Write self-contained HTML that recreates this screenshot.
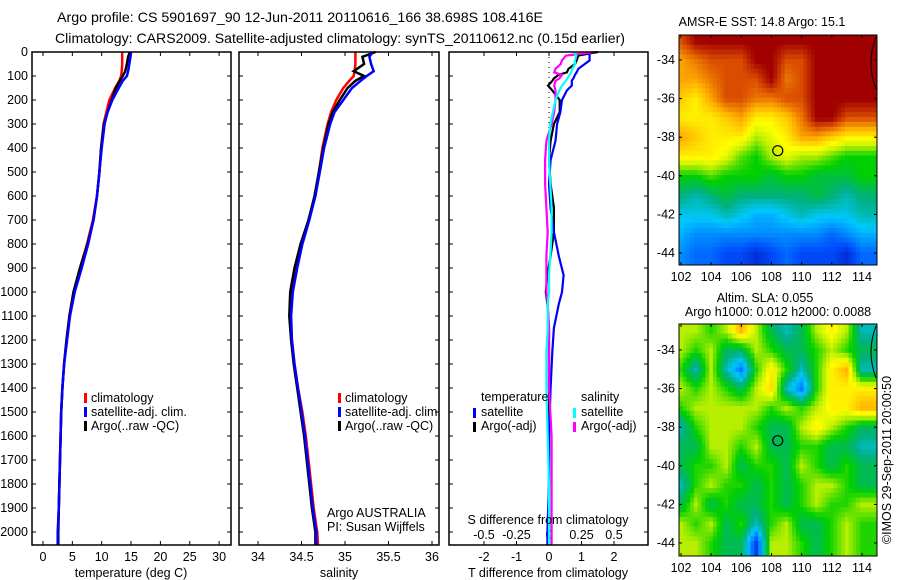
<!DOCTYPE html>
<html><head><meta charset="utf-8"><style>
body{margin:0;background:#fff;}
svg{display:block;font-family:"Liberation Sans",sans-serif;}
text{font-size:12.5px;fill:#000;}
</style></head><body>
<svg id="fig" width="900" height="580" xmlns="http://www.w3.org/2000/svg">
<rect width="900" height="580" fill="#fff"/>
<text x="300" y="22" text-anchor="middle" style="font-size:14px" textLength="486" lengthAdjust="spacingAndGlyphs">Argo profile: CS 5901697_90 12-Jun-2011 20110616_166 38.698S 108.416E</text>
<text x="340" y="43" text-anchor="middle" style="font-size:14px" textLength="570" lengthAdjust="spacingAndGlyphs">Climatology: CARS2009. Satellite-adjusted climatology: synTS_20110612.nc (0.15d earlier)</text>
<g id="layer"></g>
</svg>
<script>
// ---- profile data ----
const depthT = [0,20,50,80,100,120,150,200,250,300,400,500,600,700,800,900,1000,1100,1200,1300,1400,1500,1600,1700,1800,1900,2000,2054];
const tempClim = [13.5,13.5,13.5,13.4,13.3,13.0,12.3,11.3,10.8,10.3,9.9,9.6,9.2,8.5,7.5,6.3,5.2,4.5,4.0,3.6,3.3,3.1,3.0,2.9,2.8,2.7,2.55,2.5];
const tempSat = [15.0,14.9,14.7,14.5,14.3,13.6,12.9,11.8,11.0,10.5,10.0,9.6,9.2,8.6,7.7,6.6,5.4,4.6,4.1,3.6,3.3,3.1,3.0,2.9,2.8,2.7,2.5,2.5];
const tempArgo = [14.8,14.5,14.3,14.0,13.6,13.1,12.4,11.7,11.0,10.4,9.9,9.6,9.2,8.6,7.6,6.3,5.2,4.5,4.0,3.6,3.3,3.1,3.0,2.9,2.8,2.7,2.6,2.6];
const salClim = [35.12,35.12,35.12,35.11,35.10,35.05,34.98,34.90,34.84,34.80,34.74,34.70,34.66,34.58,34.50,34.43,34.39,34.37,34.39,34.42,34.46,34.51,34.55,34.58,34.61,34.64,34.68,34.69];
const salSat = [35.32,35.28,35.30,35.33,35.25,35.18,35.08,34.98,34.88,34.83,34.76,34.71,34.66,34.59,34.51,34.45,34.40,34.38,34.39,34.42,34.46,34.50,34.54,34.57,34.60,34.63,34.67,34.67];
const salArgo = [35.35,35.20,35.22,35.10,35.22,35.12,35.03,34.94,34.86,34.81,34.75,34.70,34.65,34.58,34.49,34.42,34.37,34.36,34.38,34.41,34.45,34.49,34.53,34.56,34.59,34.62,34.66,34.66];
const depthD = [0,15,35,50,70,85,95,110,120,140,160,200,250,300,370,450,550,650,750,850,930,1000,1050,1150,1250,1400,1600,1800,2000,2054];
const tdiffSat = [1.2,1.25,1.25,1.1,0.9,0.85,0.8,0.75,0.7,0.7,0.55,0.4,0.35,0.25,0.2,0.05,0.0,0.05,0.15,0.3,0.45,0.4,0.3,0.15,0.1,0.05,0.0,0.0,-0.05,-0.05];
const tdiffArgo = [1.5,0.9,0.85,0.8,0.6,0.55,0.3,0.15,0.1,-0.03,0.1,0.33,0.33,0.15,0.05,0.0,0.05,0.15,0.15,0.05,-0.05,-0.1,-0.05,0.0,0.0,0.0,0.0,0.0,0.0,0.0];
const sdiffSat = [0.19,0.21,0.2,0.2,0.18,0.17,0.16,0.14,0.13,0.1,0.08,0.05,0.03,0.01,0.0,0.0,0.01,0.02,0.02,0.01,0.0,0.0,-0.01,-0.01,-0.02,-0.02,-0.01,0.0,0.0,0.0];
const sdiffArgo = [0.35,0.13,0.1,0.09,0.05,0.04,0.1,0.08,0.05,0.04,0.05,0.05,0.04,0.02,-0.02,-0.03,-0.03,-0.02,-0.01,-0.02,-0.02,-0.02,-0.01,0.0,0.0,0.0,0.02,0.02,0.02,0.02];
// ---- map data (rows lat -33..-44, cols lon 102..114) ----
const mapLons = [102,103,104,105,106,107,108,109,110,111,112,113,114];
const mapLats = [-33,-34,-35,-36,-37,-38,-39,-40,-41,-42,-43,-44];
const sstGrid = [
[17,18,18,18,18,18,18,18,18,18,18,18,18],
[16,16.5,17,17,17,18,18,17,17,18,18,18,18],
[16,16,16.5,17,17,17,18,16.5,17,18,18,18,18],
[15.5,15,16,17,17,16.5,16.5,17,17,18,18,18,18],
[15,15,15,15.5,16,15,15,15.5,16.5,18,18,17,17],
[16,15.5,15,15,15,14,14.5,15,16,16,15.5,15,15],
[15,15,15,14.5,13.5,13,14,14.5,14,14,13.5,13,13],
[13,13,13.5,13,13,13,12.5,13,13,12.5,12.5,12.5,13],
[12,11.5,12,12.5,12,12,12,12,12,12.5,12,11.5,12],
[11,11,11,11.5,11,10.5,10.5,11,11.5,11,11,11,11.5],
[10.5,10,10,10,10,10,10,10,10,10,9.5,10,10.5],
[10,9.5,9.5,9,9,8.5,9,9.5,9,9,9,8.5,9.5]];
const slaGrid = [
[0.05,0.05,0.0,0.05,0.15,0.05,-0.05,-0.1,-0.05,0.05,0.1,0.05,-0.1],
[0.05,0,0.05,-0.05,-0.05,0.05,0,-0.05,-0.05,0,0.05,0,-0.05],
[0,-0.1,0.05,-0.1,-0.2,0,0.1,0,-0.1,0,0.1,0.15,-0.1],
[0.05,0,0.05,0,-0.05,0.05,0.12,-0.1,-0.2,0,0.1,0.1,0.1],
[0,0.05,0.05,0.05,0.05,0.05,0,0.05,0,0.05,0.1,0.1,0.15],
[-0.1,0,0.05,0.05,0.05,0,-0.05,-0.05,0.05,0.1,0.05,0,-0.05],
[-0.05,-0.05,0.05,0.05,0,0.05,-0.05,-0.05,0,0,-0.05,-0.05,-0.1],
[-0.05,0,0,0.05,-0.05,0,0,-0.05,0.05,0,-0.05,0,-0.05],
[-0.1,0,0.05,0,0,-0.05,0,-0.05,0,0.05,0.05,0,-0.05],
[-0.05,0.05,-0.05,0,-0.05,-0.05,0,-0.05,0,0.05,0,0,0.05],
[0.05,0,0.05,-0.05,0,-0.1,0,0.05,-0.05,-0.05,0,0.05,0],
[0.05,0.05,0,-0.05,-0.05,-0.25,0.05,0.05,0,-0.05,0,0.05,0]];
const argoLon = 108.416, argoLat = -38.698;
const depthTicks = [0,100,200,300,400,500,600,700,800,900,1000,1100,1200,1300,1400,1500,1600,1700,1800,1900,2000];
const tempTicks = [0,5,10,15,20,25,30];
const salTicks = [34,34.5,35,35.5,36];
const tdTicks = [-2,-1,0,1,2];
const sdTicks = [-0.5,-0.25,0,0.25,0.5];
const lonTicks = [102,104,106,108,110,112,114];
const latTicks = [-34,-36,-38,-40,-42,-44];

const NS='http://www.w3.org/2000/svg';
const L=document.getElementById('layer');
function mk(tag,attrs,parent){const e=document.createElementNS(NS,tag);for(const k in attrs)e.setAttribute(k,attrs[k]);(parent||L).appendChild(e);return e;}
function txt(x,y,s,anchor,parent){const e=mk('text',{x:x,y:y,'text-anchor':anchor||'start'},parent);e.textContent=s;return e;}
const Y=d=>52+0.24*d;
const PB=545;
function poly(xs,ds,fx,col,w,name){
  let p='';
  for(let i=0;i<xs.length;i++){p+=(i?'L':'M')+fx(xs[i]).toFixed(1)+','+Y(ds[i]).toFixed(1);}
  const e=mk('path',{d:p,fill:'none',stroke:col,'stroke-width':w});
  
  
}
function box(x0,x1,y0,y1,name){
  const e=mk('rect',{x:x0,y:y0,width:x1-x0,height:y1-y0,fill:'none',stroke:'#000','stroke-width':1.5});
  
  
}
// Panel 1 temperature
const xT=v=>43+v*5.87;
const p1=[32,231];
depthTicks.forEach(d=>{mk('line',{x1:p1[0],x2:p1[0]+4,y1:Y(d),y2:Y(d),stroke:'#000'});mk('line',{x1:p1[1]-4,x2:p1[1],y1:Y(d),y2:Y(d),stroke:'#000'});
 const t=txt(28,Y(d)+4,String(d),'end');});
tempTicks.forEach(v=>{mk('line',{x1:xT(v),x2:xT(v),y1:PB-4,y2:PB,stroke:'#000'});mk('line',{x1:xT(v),x2:xT(v),y1:52,y2:56,stroke:'#000'});
 const t=txt(xT(v),561,String(v),'middle');});
poly(tempClim,depthT,xT,'#f00',2.5,'temp-climatology-line');
poly(tempArgo,depthT,xT,'#000',2.5,'temp-argo-line');
poly(tempSat,depthT,xT,'#00f',2.5,'temp-satellite-line');
box(p1[0],p1[1],52,PB,'temperature-axes');
txt(131,577,'temperature (deg C)','middle');
function legend3(x,y0,name){
  const cols=['#f00','#00f','#000'],labs=['climatology','satellite-adj. clim.','Argo(..raw -QC)'];
  const g=mk('g',{});
  for(let i=0;i<3;i++){mk('rect',{x:x,y:y0+i*14-5,width:3,height:10,fill:cols[i]},g);txt(x+7,y0+i*14+4,labs[i],'start',g);}
}
legend3(84,398,'temp-legend');
// Panel 2 salinity
const xS=v=>258+(v-34)*87;
const p2=[239,439];
depthTicks.forEach(d=>{mk('line',{x1:p2[0],x2:p2[0]+4,y1:Y(d),y2:Y(d),stroke:'#000'});mk('line',{x1:p2[1]-4,x2:p2[1],y1:Y(d),y2:Y(d),stroke:'#000'});});
salTicks.forEach(v=>{mk('line',{x1:xS(v),x2:xS(v),y1:PB-4,y2:PB,stroke:'#000'});mk('line',{x1:xS(v),x2:xS(v),y1:52,y2:56,stroke:'#000'});
 const t=txt(xS(v),561,String(v),'middle');});
poly(salClim,depthT,xS,'#f00',2.5,'sal-climatology-line');
poly(salArgo,depthT,xS,'#000',2.5,'sal-argo-line');
poly(salSat,depthT,xS,'#00f',2.5,'sal-satellite-line');
box(p2[0],p2[1],52,PB,'salinity-axes');
txt(339,577,'salinity','middle');
legend3(338,398,'sal-legend');
txt(327,517,'Argo AUSTRALIA');
txt(327,531,'PI: Susan Wijffels');
// Panel 3 differences
const xTD=v=>549+v*32.5, xSD=v=>549+v*130;
const p3=[449,648];
depthTicks.forEach(d=>{mk('line',{x1:p3[0],x2:p3[0]+4,y1:Y(d),y2:Y(d),stroke:'#000'});mk('line',{x1:p3[1]-4,x2:p3[1],y1:Y(d),y2:Y(d),stroke:'#000'});});
tdTicks.forEach(v=>{mk('line',{x1:xTD(v),x2:xTD(v),y1:PB-4,y2:PB,stroke:'#000'});mk('line',{x1:xTD(v),x2:xTD(v),y1:52,y2:56,stroke:'#000'});
 const t=txt(xTD(v),561,String(v),'middle');});
sdTicks.forEach(v=>{const t=txt(xSD(v),539,String(v),'middle');});
mk('line',{x1:549,x2:549,y1:52,y2:140,stroke:'#000','stroke-dasharray':'1,4'});
poly(tdiffArgo,depthD,xTD,'#000',2.2,'tdiff-argo-line');
poly(tdiffSat,depthD,xTD,'#00f',2.2,'tdiff-satellite-line');
poly(sdiffArgo,depthD,xSD,'#f0f',2.2,'sdiff-argo-line');
poly(sdiffSat,depthD,xSD,'#0ff',2.2,'sdiff-satellite-line');
box(p3[0],p3[1],52,PB,'difference-axes');
txt(548,524,'S difference from climatology','middle');
txt(548,577,'T difference from climatology','middle');
(function(){const g=mk('g',{});
 txt(481,401,'temperature','start',g);txt(581,401,'salinity','start',g);
 mk('rect',{x:473,y:408,width:3,height:10,fill:'#00f'},g);txt(481,416,'satellite','start',g);
 mk('rect',{x:473,y:422,width:3,height:10,fill:'#000'},g);txt(481,430,'Argo(-adj)','start',g);
 mk('rect',{x:573,y:408,width:3,height:10,fill:'#0ff'},g);txt(581,416,'satellite','start',g);
 mk('rect',{x:573,y:422,width:3,height:10,fill:'#f0f'},g);txt(581,430,'Argo(-adj)','start',g);})();
// ---- maps ----
const cmStops=[[0,[0,0,150]],[0.15,[0,80,255]],[0.3,[0,200,255]],[0.4,[0,176,128]],[0.5,[0,208,0]],[0.6,[190,240,0]],[0.66,[255,255,0]],[0.76,[255,176,0]],[0.86,[220,80,0]],[0.95,[160,0,0]],[1,[160,0,0]]];
function cmap(t){t=Math.max(0,Math.min(1,t));
 for(let i=1;i<cmStops.length;i++){if(t<=cmStops[i][0]){const a=cmStops[i-1],b=cmStops[i],f=(t-a[0])/(b[0]-a[0]);
  return 'rgb('+[0,1,2].map(k=>Math.round(a[1][k]+f*(b[1][k]-a[1][k]))).join(',')+')';}}
 return 'rgb(160,0,0)';}
function sample(grid,r,c){
 r=Math.max(0,Math.min(grid.length-1,r));c=Math.max(0,Math.min(grid[0].length-1,c));
 const r0=Math.floor(r),c0=Math.floor(c);
 const r1=Math.min(grid.length-1,r0+1),c1=Math.min(grid[0].length-1,c0+1);
 const fr=r-r0,fc=c-c0;
 return grid[r0][c0]*(1-fr)*(1-fc)+grid[r0][c1]*(1-fr)*fc+grid[r1][c0]*fr*(1-fc)+grid[r1][c1]*fr*fc;}
function drawMap(grid,y0,y1,lat34,lat44,vmin,vmax,name){
 const x0=679,x1=877;
 const pxLon=15.08, pxLat=(lat44-lat34)/10;
 const lx=v=>681+(v-102)*pxLon, ly=v=>lat34+(v+34)*(lat44-lat34)/-10;
 const g=mk('g',{});
 const cw=pxLon/4, ch=pxLat/4;
 for(let y=y0;y<y1;y+=ch)for(let x=x0;x<x1;x+=cw){
  const lon=102+(x+cw/2-681)/pxLon, lat=-34-(y+ch/2-lat34)/pxLat;
  const c=lon-mapLons[0], r=mapLats[0]-lat;
  const e=mk('rect',{x:x.toFixed(1),y:y.toFixed(1),width:(Math.min(cw,x1-x)+0.5).toFixed(1),height:(Math.min(ch,y1-y)+0.5).toFixed(1),fill:cmap((sample(grid,r,c)-vmin)/(vmax-vmin))},g);
  
  
 }
 mk('rect',{x:x1,y:y0-5,width:20,height:y1-y0+10,fill:'#fff'},g);
 mk('rect',{x:x0,y:y1,width:x1-x0,height:3,fill:'#fff'},g);
 mk('rect',{x:x0,y:y0,width:x1-x0,height:y1-y0,fill:'none',stroke:'#000','stroke-width':1},g);
 lonTicks.forEach(v=>{mk('line',{x1:lx(v),x2:lx(v),y1:y1,y2:y1-3,stroke:'#000'},g);mk('line',{x1:lx(v),x2:lx(v),y1:y0,y2:y0+3,stroke:'#000'},g);
  const t=txt(lx(v),y1+16,String(v),'middle',g);});
 latTicks.forEach(v=>{mk('line',{x1:x0,x2:x0+3,y1:ly(v),y2:ly(v),stroke:'#000'},g);mk('line',{x1:x1,x2:x1-3,y1:ly(v),y2:ly(v),stroke:'#000'},g);
  const t=txt(x0-4,ly(v)+4,String(v),'end',g);});
 mk('circle',{cx:lx(argoLon),cy:ly(argoLat),r:5,fill:'none',stroke:'#000','stroke-width':1.2},g);
 mk('path',{d:'M876,'+(y0+2)+' Q866,'+(y0+28)+' 876,'+(y0+54),fill:'none',stroke:'#000'},g);
}
drawMap(sstGrid,35,265,60,253,7.5,18.5,'sst-map');
drawMap(slaGrid,324,556,350,543,-0.32,0.3,'sla-map');
txt(762,26,'AMSR-E SST: 14.8 Argo: 15.1','middle');
txt(765,302,'Altim. SLA: 0.055','middle');
txt(778,316,'Argo h1000: 0.012 h2000: 0.0088','middle');
const v=txt(0,0,'©IMOS 29-Sep-2011 20:00:50','middle');v.setAttribute('transform','translate(891,460) rotate(-90)');


</script>
</body></html>
